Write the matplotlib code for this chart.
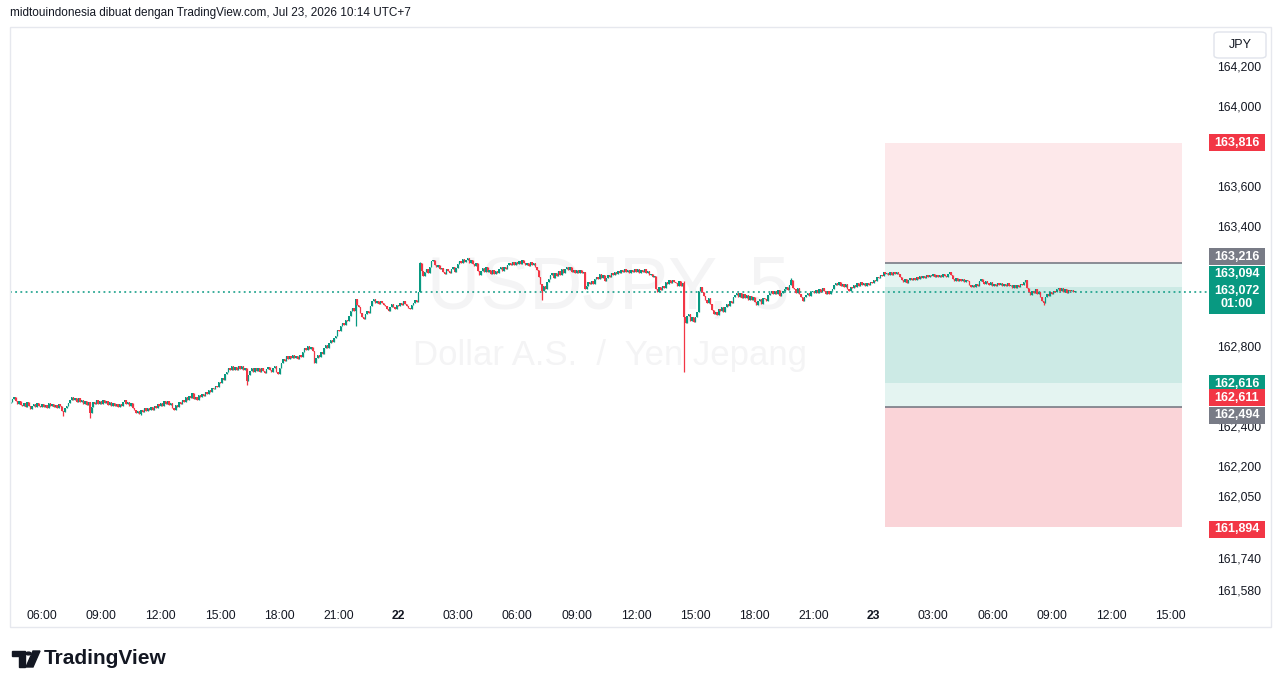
import matplotlib
matplotlib.use("Agg")
import matplotlib.pyplot as plt
from matplotlib.patches import Rectangle, FancyBboxPatch, Circle, Polygon
import matplotlib.transforms as mtransforms
import numpy as np
import pandas as pd

# --- DATI: chiusure a 5 minuti USDJPY ---
primo_open = 162.515
closes_21 = [
    162.520, 162.535, 162.545, 162.525, 162.510, 162.525, 162.505,
    162.500, 162.515, 162.495, 162.520, 162.500, 162.485, 162.500, 162.510, 162.495, 162.515, 162.500, 162.495,
    162.510, 162.495, 162.505, 162.490, 162.515, 162.500, 162.510, 162.495, 162.505, 162.490, 162.510, 162.500,
    162.475, 162.470, 162.490, 162.500, 162.515, 162.530, 162.545, 162.530, 162.540, 162.520, 162.540, 162.520,
    162.530, 162.510, 162.525, 162.505, 162.520, 162.465, 162.495, 162.520, 162.510, 162.530, 162.510, 162.525,
    162.510, 162.530, 162.515, 162.525, 162.505, 162.520, 162.500, 162.515, 162.500, 162.510, 162.495, 162.510,
    162.500, 162.520, 162.530, 162.510, 162.520, 162.500, 162.515, 162.490, 162.480, 162.465, 162.475, 162.460,
    162.480, 162.470, 162.490, 162.475, 162.490, 162.480, 162.495, 162.480, 162.500, 162.490, 162.510, 162.500,
    162.515, 162.500, 162.525, 162.510, 162.525, 162.505, 162.515, 162.490, 162.480, 162.505, 162.495, 162.520,
    162.510, 162.530, 162.520, 162.545, 162.530, 162.550, 162.540, 162.565, 162.535, 162.545, 162.530, 162.555,
    162.545, 162.560, 162.550, 162.570, 162.560, 162.580, 162.570, 162.590, 162.585, 162.600, 162.595, 162.620,
    162.615, 162.640, 162.630, 162.660, 162.670, 162.690, 162.680, 162.700, 162.680, 162.695, 162.680, 162.700,
    162.685, 162.700, 162.680, 162.690, 162.625, 162.655, 162.675, 162.690, 162.670, 162.690, 162.675, 162.690,
    162.670, 162.690, 162.675, 162.665, 162.685, 162.695, 162.680, 162.670, 162.690, 162.700, 162.670, 162.660,
    162.690, 162.715, 162.735, 162.725, 162.750, 162.735, 162.750, 162.740, 162.755, 162.740, 162.750, 162.735,
    162.755, 162.745, 162.770, 162.790, 162.780, 162.800, 162.785, 162.795, 162.775, 162.715, 162.740, 162.755,
    162.745, 162.770, 162.760, 162.790, 162.805, 162.790, 162.815, 162.830, 162.820, 162.840, 162.850, 162.880,
    162.875, 162.900, 162.915, 162.905, 162.930, 162.925, 162.950, 162.975, 162.990, 162.975, 163.035, 163.005,
    162.995, 162.965, 162.945, 162.935, 162.960, 162.975, 162.965, 163.000, 163.025, 163.035, 163.015, 163.025,
    163.010, 163.025, 163.015, 163.005, 163.000, 162.985, 162.975, 162.995, 163.010, 162.995, 162.985, 163.005,
]
closes_22 = [
    163.000, 163.015, 163.005, 163.025, 163.010, 163.000, 162.990, 162.985, 163.005, 163.015, 163.030, 163.020,
    163.070, 163.215, 163.175, 163.150, 163.170, 163.185, 163.165, 163.195, 163.225, 163.230, 163.205, 163.195,
    163.205, 163.185, 163.190, 163.170, 163.160, 163.185, 163.175, 163.165, 163.185, 163.195, 163.170, 163.190,
    163.210, 163.225, 163.215, 163.235, 163.220, 163.230, 163.240, 163.215, 163.230, 163.210, 163.200, 163.215,
    163.175, 163.155, 163.175, 163.190, 163.170, 163.195, 163.170, 163.180, 163.160, 163.180, 163.160, 163.175,
    163.165, 163.185, 163.195, 163.175, 163.195, 163.185, 163.205, 163.215, 163.205, 163.220, 163.205, 163.220,
    163.210, 163.225, 163.210, 163.230, 163.215, 163.205, 163.215, 163.200, 163.220, 163.205, 163.215, 163.195,
    163.180, 163.145, 163.110, 163.075, 163.100, 163.085, 163.120, 163.135, 163.155, 163.165, 163.140, 163.165,
    163.150, 163.175, 163.155, 163.185, 163.165, 163.185, 163.195, 163.180, 163.195, 163.170, 163.180, 163.165,
    163.180, 163.165, 163.180, 163.165, 163.170, 163.085, 163.100, 163.120, 163.110, 163.125, 163.110, 163.135,
    163.145, 163.135, 163.160, 163.140, 163.155, 163.125, 163.140, 163.155, 163.145, 163.165, 163.155, 163.170,
    163.160, 163.175, 163.165, 163.180, 163.170, 163.185, 163.170, 163.180, 163.165, 163.180, 163.170, 163.185,
    163.170, 163.185, 163.165, 163.180, 163.170, 163.185, 163.165, 163.175, 163.155, 163.160, 163.145, 163.150,
    163.085, 163.070, 163.095, 163.080, 163.100, 163.090, 163.120, 163.110, 163.130, 163.115, 163.130, 163.120,
    163.115, 163.100, 163.125, 163.100, 163.115, 162.945, 162.915, 162.950, 162.960, 162.925, 162.945, 162.920,
    162.945, 162.970, 163.075, 163.095, 163.070, 163.050, 163.030, 163.015, 163.040, 163.010, 162.980, 162.960,
    162.970, 162.955, 162.985, 162.975, 162.995, 162.970, 162.995, 163.010, 163.000, 163.025, 163.015, 163.045,
    163.055, 163.065, 163.045, 163.065, 163.040, 163.060, 163.040, 163.055, 163.030, 163.050, 163.030, 163.045,
    163.020, 163.005, 163.025, 163.035, 163.010, 163.040, 163.035, 163.025, 163.055, 163.065, 163.075, 163.060,
    163.075, 163.060, 163.080, 163.050, 163.065, 163.075, 163.085, 163.095, 163.080, 163.105, 163.130, 163.090,
    163.085, 163.065, 163.090, 163.060, 163.045, 163.025, 163.045, 163.055, 163.065, 163.050, 163.070, 163.075,
    163.065, 163.080, 163.065, 163.085, 163.070, 163.090, 163.075, 163.060, 163.075, 163.060, 163.075, 163.085,
    163.105, 163.115, 163.105, 163.120, 163.100, 163.110, 163.095, 163.110, 163.085, 163.075, 163.095, 163.090,
    163.105, 163.095, 163.115, 163.100, 163.120, 163.105, 163.115, 163.100, 163.115, 163.105, 163.120, 163.115,
]
closes_23 = [
    163.130, 163.125, 163.145, 163.140, 163.155, 163.150, 163.170, 163.160, 163.165, 163.155, 163.170, 163.155,
    163.170, 163.160, 163.170, 163.160, 163.145, 163.130, 163.120, 163.135, 163.115, 163.130, 163.140, 163.130,
    163.140, 163.130, 163.145, 163.135, 163.150, 163.140, 163.150, 163.140, 163.155, 163.145, 163.155, 163.150,
    163.160, 163.145, 163.155, 163.145, 163.155, 163.145, 163.160, 163.150, 163.145, 163.160, 163.170, 163.155,
    163.135, 163.125, 163.140, 163.125, 163.135, 163.125, 163.135, 163.120, 163.130, 163.125, 163.105, 163.095,
    163.105, 163.095, 163.110, 163.100, 163.125, 163.135, 163.120, 163.110, 163.125, 163.115, 163.105, 163.120,
    163.100, 163.110, 163.100, 163.115, 163.105, 163.115, 163.100, 163.110, 163.100, 163.115, 163.100, 163.105,
    163.090, 163.105, 163.090, 163.105, 163.095, 163.110, 163.105, 163.120, 163.130, 163.090, 163.070, 163.055,
    163.075, 163.065, 163.085, 163.060, 163.070, 163.045, 163.025, 163.015, 163.045, 163.060, 163.050, 163.070,
    163.060, 163.075, 163.070, 163.085, 163.090, 163.075, 163.090, 163.070, 163.085, 163.065, 163.080, 163.075,
    163.080, 163.070, 163.072,
]

# spike evidenti (code lunghe)
minimi_spike = {
    "2026-07-21 07:05": 162.450, "2026-07-21 08:25": 162.440, "2026-07-21 11:00": 162.455,
    "2026-07-21 16:20": 162.605, "2026-07-21 21:50": 162.900, "2026-07-22 07:15": 163.030,
    "2026-07-22 14:25": 162.670, "2026-07-23 08:35": 163.005,
}
massimi_spike = {
    "2026-07-22 01:05": 163.222, "2026-07-22 14:25": 163.125, "2026-07-22 19:50": 163.140,
}

# position tool (short e long)
short_entry, short_stop, short_target = 163.216, 163.816, 162.616
long_entry, long_stop, long_target = 162.494, 161.894, 163.094
prezzo_attuale = 163.072

etichette_prezzo = [163.816, 163.216, 163.094, 163.072, 162.616, 162.611, 162.494, 161.894]
colori_etichette = ["#f23645", "#787b86", "#089981", "#089981", "#089981", "#f23645", "#787b86", "#f23645"]
tick_prezzi = [164.2, 164.0, 163.6, 163.4, 162.8, 162.4, 162.2, 162.05, 161.74, 161.58]

# --- COSTRUZIONE OHLC ---
closes = np.array(closes_21 + closes_22 + closes_23)
tempi = pd.date_range("2026-07-21 04:25", periods=len(closes), freq="5min")
t = (tempi - pd.Timestamp("2026-07-21")).total_seconds().values / 3600.0
opens = np.concatenate([[primo_open], closes[:-1]])
highs = np.maximum(opens, closes)
lows = np.minimum(opens, closes)
for k, v in minimi_spike.items():
    lows[tempi.get_loc(pd.Timestamp(k))] = v
for k, v in massimi_spike.items():
    highs[tempi.get_loc(pd.Timestamp(k))] = v

VERDE = "#089981"
ROSSO = "#f23645"
TESTO = "#131722"
FONT = ["Liberation Sans", "DejaVu Sans"]
plt.rcParams["font.family"] = FONT

W, H = 1281, 688
fig = plt.figure(figsize=(W / 100, H / 100), dpi=100)
fig.patch.set_facecolor("white")

def px(x0, y0, x1, y1):
    return [x0 / W, 1 - y1 / H, (x1 - x0) / W, (y1 - y0) / H]

# cornice esterna
fig.patches.append(Rectangle((10 / W, 1 - 627 / H), 1261 / W, 600 / H, transform=fig.transFigure,
                             fill=False, edgecolor="#e6e8ee", lw=1))

ax = fig.add_axes(px(10, 27, 1207, 600))
ax.set_xlim(4.3838, 64.838)
ax.set_ylim(161.53, 164.395)
for s in ax.spines.values():
    s.set_visible(False)
ax.set_facecolor("none")

# watermark
ax.text(608 / W, 1 - 289 / H, "USDJPY, 5", transform=fig.transFigure, ha="center", va="center",
        fontsize=53, color="#f4f4f5", zorder=0)
ax.text(610 / W, 1 - 356 / H, "Dollar A.S.  /  Yen Jepang", transform=fig.transFigure, ha="center",
        va="center", fontsize=25, color="#f4f4f5", zorder=0)

# position tool
t0, t1 = 48.58, 63.58
ax.add_patch(Rectangle((t0, short_entry), t1 - t0, short_stop - short_entry, color="#fde8ea", lw=0, zorder=1))
ax.add_patch(Rectangle((t0, short_target), t1 - t0, short_entry - short_target, color=VERDE, alpha=0.105, lw=0, zorder=1))
ax.add_patch(Rectangle((t0, long_entry), t1 - t0, long_target - long_entry, color=VERDE, alpha=0.105, lw=0, zorder=1))
ax.add_patch(Rectangle((t0, long_stop), t1 - t0, long_entry - long_stop, color="#fad4d8", lw=0, zorder=1))
ax.hlines([short_entry, long_entry], t0, t1, color="#787b86", lw=1.2, zorder=2)

# prezzo attuale
ax.axhline(prezzo_attuale, color=VERDE, lw=1.1, linestyle=(0, (1.2, 2.2)), zorder=2)

# candele
su = closes >= opens
colori = np.where(su, VERDE, ROSSO)
corpo = np.maximum(np.abs(closes - opens), 0.005)
base = np.minimum(opens, closes)
ax.vlines(t, lows, highs, colors=colori, lw=0.9, zorder=3)
ax.bar(t, corpo, bottom=base, width=0.068, color=colori, lw=0, zorder=3)

# assi
ticks_x = np.arange(6, 64, 3)
etich_x = []
for h in ticks_x:
    if h % 24 == 0:
        etich_x.append(str(21 + h // 24))
    else:
        etich_x.append(f"{h % 24:02d}:00")
ax.set_xticks(ticks_x)
ax.set_xticklabels(etich_x, fontsize=8.7, color=TESTO)
for lab, h in zip(ax.get_xticklabels(), ticks_x):
    if h % 24 == 0:
        lab.set_fontweight("bold")
ax.tick_params(axis="x", length=0, pad=7)

ax.yaxis.tick_right()
ax.set_yticks(tick_prezzi)
ax.set_yticklabels([f"{v:.3f}".replace(".", ",") for v in tick_prezzi], fontsize=8.7, color=TESTO)
ax.tick_params(axis="y", length=0, pad=7.5)

# etichette prezzo sulla scala
spost = [0, -6, -13, 6, 1, 14, 8, 2]   # px, per evitare sovrapposizioni
trans = mtransforms.blended_transform_factory(fig.transFigure, ax.transData)
for v, c, d in zip(etichette_prezzo, colori_etichette, spost):
    yv = v - d / 200.0
    testo = f"{v:.3f}".replace(".", ",")
    alt = 17
    if v == prezzo_attuale:
        testo += "\n01:00"
        alt = 32
    ax.add_patch(Rectangle((1209 / W, yv - alt / 400.0), 56 / W, alt / 200.0, transform=trans,
                           color=c, lw=0, clip_on=False, zorder=5))
    ax.text(1237 / W, yv, testo, transform=trans, ha="center", va="center", fontsize=9,
            color="white", fontweight="bold", clip_on=False, zorder=6, linespacing=1.15)

# box JPY
fig.patches.append(FancyBboxPatch((1214 / W, 1 - 58 / H), 52 / W, 26 / H, boxstyle="round,pad=0,rounding_size=0.004",
                                  transform=fig.transFigure, fill=False, edgecolor="#e0e3eb", lw=1))
fig.text(1240 / W, 1 - 45 / H, "JPY", ha="center", va="center", fontsize=9, color=TESTO)

# intestazione
fig.text(10 / W, 1 - 13 / H, "midtouindonesia dibuat dengan TradingView.com, Jul 23, 2026 10:14 UTC+7",
         ha="left", va="center", fontsize=8.5, color=TESTO)

# logo TradingView
def fpoly(pts, **kw):
    fig.patches.append(Polygon([(x / W, 1 - y / H) for x, y in pts], closed=True,
                               transform=fig.transFigure, **kw))
fpoly([(12, 651), (25, 651), (25, 667), (19, 667), (19, 656), (12, 656)], color=TESTO)
fig.patches.append(Circle((28.5 / W, 1 - 653.5 / H), 2.6 / W, transform=fig.transFigure, color=TESTO))
fpoly([(33, 651), (40, 651), (33, 667), (26, 667)], color=TESTO)
fig.text(44 / W, 1 - 658 / H, "TradingView", ha="left", va="center", fontsize=15,
         fontweight="bold", color=TESTO)

fig.savefig("out.png", dpi=100)
